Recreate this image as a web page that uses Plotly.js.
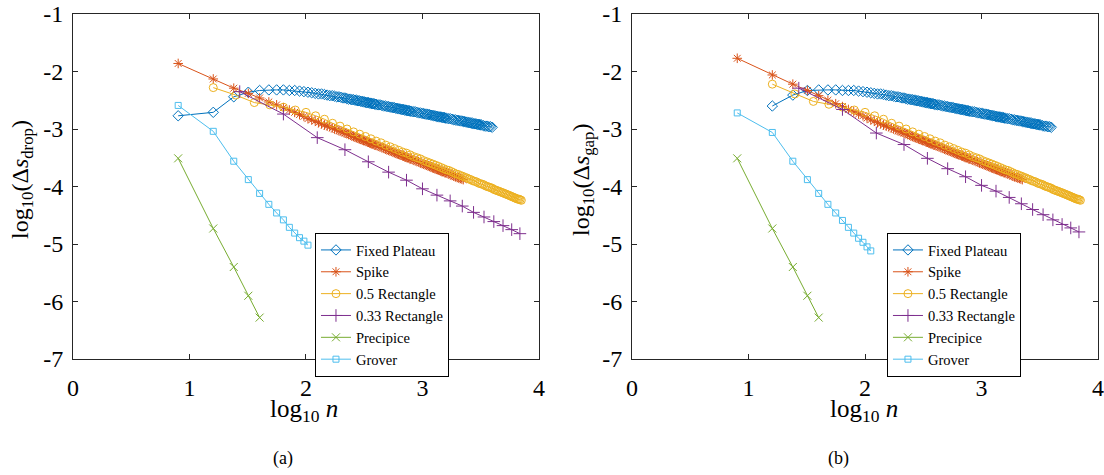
<!DOCTYPE html>
<html>
<head>
<meta charset="utf-8">
<script src="https://cdn.plot.ly/plotly-3.0.1.min.js"></script>
<style>html,body{margin:0;padding:0;background:#fff;}#chart{width:1104px;height:475px;}</style>
</head>
<body>
<div id="chart"></div>
<script>
// ---------- data (x = n, drawn on a log10 axis) ----------
const seriesNames = ["Fixed Plateau", "Spike", "0.5 Rectangle", "0.33 Rectangle", "Precipice", "Grover"];

const fpN = [8,16,24,32,40,48,56,64,72,80,88,96,104,112,120,128,136,144,152,160,168,176,184,192,200,
  208,216,224,232,240,248,256,264,272,280,288,296,304,312,320,328,336,344,352,360,368,376,384,392,400,
  416,432,448,464,480,496,512,528,544,560,576,592,608,624,640,656,672,688,704,720,736,752,768,784,800,
  832,864,896,928,960,992,1024,1056,1088,1120,1152,1184,1216,1248,1280,1312,1344,1376,1408,1440,1472,1504,1536,1568,1600,
  1664,1728,1792,1856,1920,1984,2048,2112,2176,2240,2304,2368,2432,2496,2560,2624,2688,2752,2816,2880,2944,3008,3072,3136,3200,
  3328,3456,3584,3712,3840,3968];
const fpDrop = [-2.77,-2.71,-2.44,-2.36,-2.33,-2.32,-2.32,-2.32,-2.33,-2.33,-2.34,-2.35,-2.36,-2.37,-2.38,-2.39,-2.39,-2.40,-2.41,-2.42,-2.42,-2.43,-2.44,-2.44,-2.45,
  -2.46,-2.46,-2.47,-2.48,-2.48,-2.49,-2.49,-2.50,-2.50,-2.51,-2.51,-2.52,-2.52,-2.53,-2.53,-2.54,-2.54,-2.54,-2.55,-2.55,-2.56,-2.56,-2.56,-2.57,-2.57,
  -2.58,-2.58,-2.59,-2.60,-2.60,-2.61,-2.61,-2.62,-2.62,-2.63,-2.63,-2.64,-2.64,-2.65,-2.65,-2.66,-2.66,-2.66,-2.67,-2.67,-2.68,-2.68,-2.68,-2.69,-2.69,
  -2.70,-2.70,-2.71,-2.72,-2.72,-2.73,-2.73,-2.74,-2.74,-2.75,-2.75,-2.76,-2.76,-2.77,-2.77,-2.78,-2.78,-2.79,-2.79,-2.79,-2.80,-2.80,-2.80,-2.81,-2.81,
  -2.82,-2.82,-2.83,-2.84,-2.84,-2.85,-2.85,-2.86,-2.86,-2.87,-2.87,-2.88,-2.88,-2.89,-2.89,-2.90,-2.90,-2.91,-2.91,-2.91,-2.92,-2.92,-2.92,-2.93,-2.93,
  -2.94,-2.95,-2.95,-2.96,-2.96,-2.97];
const fpGapHead = [null,-2.60,-2.41,-2.33,-2.32,-2.32,-2.32,-2.33];
const fpGap = fpGapHead.concat(fpDrop.slice(fpGapHead.length));

const spN = [8,16,24,32,40,48,56,64,72,80,88,96,104,112,120,128,136,144,152,160,168,176,184,192,200,
  208,216,224,232,240,248,256,264,272,280,288,296,304,312,320,328,336,344,352,360,368,376,384,392,400,
  416,432,448,464,480,496,512,528,544,560,576,592,608,624,640,656,672,688,704,720,736,752,768,784,800,
  832,864,896,928,960,992,1024,1056,1088,1120,1152,1184,1216,1248,1280,1312,1344,1376,1408,1440,1472,1504,1536,1568,1600,
  1664,1728,1792,1856,1920,1984,2048,2112,2176,2240];
const spDrop = [-1.86,-2.13,-2.29,-2.38,-2.46,-2.53,-2.58,-2.63,-2.67,-2.71,-2.75,-2.78,-2.82,-2.84,-2.86,-2.89,-2.91,-2.93,-2.95,-2.96,-2.98,-3.00,-3.01,-3.03,-3.04,
  -3.05,-3.07,-3.08,-3.09,-3.10,-3.12,-3.13,-3.14,-3.15,-3.16,-3.17,-3.18,-3.19,-3.20,-3.20,-3.21,-3.22,-3.23,-3.24,-3.25,-3.25,-3.26,-3.27,-3.28,-3.28,
  -3.30,-3.31,-3.32,-3.33,-3.35,-3.36,-3.37,-3.38,-3.39,-3.40,-3.41,-3.42,-3.43,-3.44,-3.45,-3.45,-3.46,-3.47,-3.48,-3.49,-3.49,-3.50,-3.51,-3.52,-3.52,
  -3.54,-3.55,-3.56,-3.57,-3.59,-3.60,-3.61,-3.62,-3.63,-3.64,-3.65,-3.66,-3.67,-3.68,-3.69,-3.70,-3.70,-3.71,-3.72,-3.73,-3.74,-3.74,-3.75,-3.76,-3.76,
  -3.78,-3.79,-3.80,-3.82,-3.83,-3.84,-3.85,-3.86,-3.87,-3.88];
const spGapHead = [-1.77,-2.06,-2.22,-2.33,-2.42,-2.50,-2.56,-2.61,-2.66,-2.70,-2.74,-2.77,-2.81,-2.84];
const spGap = spGapHead.concat(spDrop.slice(spGapHead.length));

const r5N = [16,25,36,49,64,81,100,121,144,169,196,225,256,289,324,361,400,441,484,529,576,625,676,729,784,841,900,961,1024,1089,
  1156,1225,1296,1369,1444,1521,1600,1681,1764,1849,1936,2025,2116,2209,2304,2401,2500,2601,2704,2809,2916,3025,3136,3249,3364,3481,
  3600,3721,3844,3969,4096,4225,4356,4489,4624,4761,4900,5041,5184,5329,5476,5625,5776,5929,6084,6241,6400,6561,6724,6889,7056];
const r5Drop = [-2.28,-2.41,-2.54,-2.58,-2.62,-2.67,-2.71,-2.77,-2.83,-2.90,-2.95,-3.00,-3.05,
  -3.09,-3.13,-3.17,-3.21,-3.24,-3.28,-3.31,-3.34,-3.37,-3.40,-3.42,-3.45,-3.48,-3.50,-3.52,-3.55,-3.57,-3.59,-3.61,-3.63,
  -3.65,-3.67,-3.69,-3.71,-3.72,-3.74,-3.76,-3.78,-3.79,-3.81,-3.82,-3.84,-3.85,-3.87,-3.88,-3.90,-3.91,-3.92,-3.94,-3.95,
  -3.96,-3.97,-3.99,-4.00,-4.01,-4.02,-4.03,-4.05,-4.06,-4.07,-4.08,-4.09,-4.10,-4.11,-4.12,-4.13,-4.14,-4.15,-4.16,-4.17,
  -4.18,-4.19,-4.20,-4.21,-4.22,-4.22,-4.23,-4.24];
const r5GapHead = [-2.22,-2.39,-2.52,-2.57,-2.62];
const r5Gap = r5GapHead.concat(r5Drop.slice(r5GapHead.length));

const r3N = [27,64,125,216,343,512,729,1000,1331,1728,2197,2744,3375,4096,4913,5832,6859];
const r3Drop = [-2.35,-2.74,-3.15,-3.36,-3.57,-3.75,-3.89,-4.04,-4.15,-4.25,-4.34,-4.45,-4.53,-4.61,-4.68,-4.75,-4.82];
const r3Gap = [-2.29,-2.66,-3.07,-3.27,-3.51,-3.69,-3.83,-3.98,-4.08,-4.19,-4.30,-4.40,-4.49,-4.58,-4.66,-4.72,-4.79];

const prN = [8,16,24,32,40];
const prDrop = [-3.51,-4.73,-5.40,-5.90,-6.28];
const prGap = [-3.51,-4.73,-5.40,-5.90,-6.28];

const grN = [8,16,24,32,40,48,56,64,72,80,88,96,104,112];
const grDrop = [-2.59,-3.04,-3.56,-3.88,-4.12,-4.31,-4.46,-4.58,-4.71,-4.81,-4.89,-4.95,-5.02,null];
const grGap = [-2.72,-3.06,-3.56,-3.88,-4.12,-4.31,-4.46,-4.59,-4.71,-4.81,-4.90,-4.97,-5.05,-5.12];

const xTickVals = [1,10,100,1000,10000];
const xTickText = ["0","1","2","3","4"];
const yTickVals = [-1,-2,-3,-4,-5,-6,-7];
const yTickText = ["-1","-2","-3","-4","-5","-6","-7"];

// ---------- styles ----------
const colors = ["#0072BD","#D95319","#EDB120","#7E2F8E","#77AC30","#4DBEEE"];
const symbols = ["diamond-open","asterisk-open","circle-open","cross-thin-open","x-thin-open","square-open"];
const sizes = [8,8,8,9,8,6];
const FONT = "Liberation Serif, DejaVu Serif, serif";

function mk(i, x, y, xa, ya, leg) {
  return {
    type: "scatter", mode: "lines+markers", name: seriesNames[i],
    x: x, y: y, xaxis: xa, yaxis: ya, legend: leg, connectgaps: false,
    line: {color: colors[i], width: 1},
    marker: {symbol: symbols[i], size: sizes[i], color: colors[i], line: {color: colors[i], width: 1}}
  };
}

const data = [
  mk(0, fpN, fpDrop, "x", "y", "legend"),
  mk(1, spN, spDrop, "x", "y", "legend"),
  mk(2, r5N, r5Drop, "x", "y", "legend"),
  mk(3, r3N, r3Drop, "x", "y", "legend"),
  mk(4, prN, prDrop, "x", "y", "legend"),
  mk(5, grN, grDrop, "x", "y", "legend"),
  mk(0, fpN, fpGap, "x2", "y2", "legend2"),
  mk(1, spN, spGap, "x2", "y2", "legend2"),
  mk(2, r5N, r5Gap, "x2", "y2", "legend2"),
  mk(3, r3N, r3Gap, "x2", "y2", "legend2"),
  mk(4, prN, prGap, "x2", "y2", "legend2"),
  mk(5, grN, grGap, "x2", "y2", "legend2")
];

function xax(dom, anchor) {
  return {type: "log", range: [0,4], domain: dom, anchor: anchor,
    tickmode: "array", tickvals: xTickVals, ticktext: xTickText,
    showline: true, mirror: "ticks", ticks: "inside", ticklen: 5, tickwidth: 1,
    linecolor: "#262626", tickcolor: "#262626", linewidth: 1,
    showgrid: false, zeroline: false, ticklabelstandoff: 7, ticklabeloverflow: "allow",
    tickfont: {family: FONT, size: 24, color: "#000"}};
}
function yax(anchor) {
  return {range: [-7,-1], domain: [0.2442, 0.9705], anchor: anchor,
    tickmode: "array", tickvals: yTickVals, ticktext: yTickText,
    showline: true, mirror: "ticks", ticks: "inside", ticklen: 5, tickwidth: 1,
    linecolor: "#262626", tickcolor: "#262626", linewidth: 1,
    showgrid: false, zeroline: false, ticklabelstandoff: 4, ticklabeloverflow: "allow",
    tickfont: {family: FONT, size: 24, color: "#000"}};
}
function leg(x) {
  return {x: x, y: 1 - 233/475, xanchor: "left", yanchor: "top", bgcolor: "#fff",
    bordercolor: "#000", borderwidth: 1, font: {family: FONT, size: 14.5, color: "#000"},
    tracegroupgap: 0, itemwidth: 30};
}

const layout = {
  width: 1104, height: 475, margin: {l: 0, r: 0, t: 0, b: 0},
  paper_bgcolor: "#fff", plot_bgcolor: "#fff",
  font: {family: FONT, color: "#000"},
  showlegend: true,
  xaxis: xax([0.0661, 0.4882], "y"),
  yaxis: yax("x"),
  xaxis2: xax([0.5725, 0.9946], "y2"),
  yaxis2: yax("x2"),
  legend: leg(0.2853),
  legend2: leg(0.8034),
  annotations: [
    {text: "log<sub>10</sub> <i>n</i>", xref: "paper", yref: "paper", x: 304/1104, y: 1 - 410/475, showarrow: false, xanchor: "center", yanchor: "middle", font: {family: FONT, size: 25}},
    {text: "log<sub>10</sub> <i>n</i>", xref: "paper", yref: "paper", x: 864/1104, y: 1 - 410/475, showarrow: false, xanchor: "center", yanchor: "middle", font: {family: FONT, size: 25}},
    {text: "log<sub>10</sub>(Δ<i>s</i><sub>drop</sub>)", xref: "paper", yref: "paper", x: 22/1104, y: 1 - 180/475, textangle: -90, showarrow: false, xanchor: "center", yanchor: "middle", font: {family: FONT, size: 24}},
    {text: "log<sub>10</sub>(Δ<i>s</i><sub>gap</sub>)", xref: "paper", yref: "paper", x: 583/1104, y: 1 - 180/475, textangle: -90, showarrow: false, xanchor: "center", yanchor: "middle", font: {family: FONT, size: 24}},
    {text: "(a)", xref: "paper", yref: "paper", x: 283/1104, y: 1 - 458/475, showarrow: false, xanchor: "center", yanchor: "middle", font: {family: FONT, size: 18}},
    {text: "(b)", xref: "paper", yref: "paper", x: 838/1104, y: 1 - 458/475, showarrow: false, xanchor: "center", yanchor: "middle", font: {family: FONT, size: 18}}
  ]
};

Plotly.newPlot("chart", data, layout, {displayModeBar: false, staticPlot: true});
</script>
</body>
</html>
